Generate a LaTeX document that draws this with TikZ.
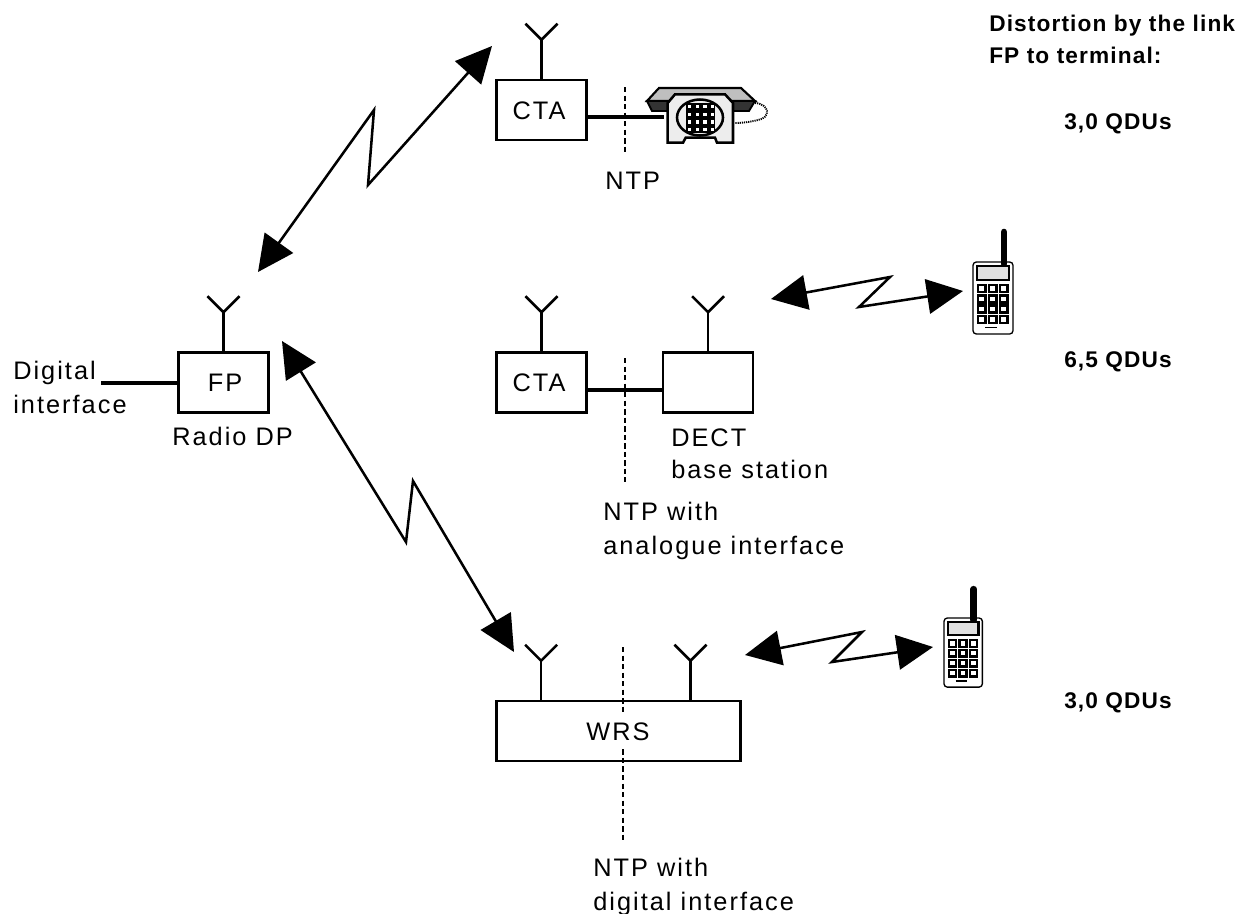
\documentclass[tikz,border=0pt]{standalone}
\usepackage{fontspec}
\setmainfont{Liberation Sans}
\newfontfamily\lblfont[LetterSpace=8]{Liberation Sans}
\newfontfamily\qdufont[LetterSpace=5]{Liberation Sans}
\usetikzlibrary{arrows.meta,positioning}

\begin{document}
\begin{tikzpicture}[
  x=0.75pt, y=-0.75pt,
  box/.style={draw, line width=1.9pt, minimum width=67.5pt, minimum height=45pt, inner sep=0pt},
  wbox/.style={box, minimum width=183pt},
  lbl/.style={anchor=base west, inner sep=0pt, align=left, font=\lblfont\fontsize{19}{25}\selectfont},
  inbox/.style={inner sep=0pt, font=\lblfont\fontsize{19}{25}\selectfont},
  qdu/.style={anchor=base west, inner sep=0pt, align=left, font=\qdufont\bfseries\fontsize{17}{24}\selectfont},
  arr/.style={{Triangle[length=27pt,width=26pt]}-{Triangle[length=27pt,width=26pt]}, line width=1.9pt},
  wire/.style={line width=3pt},
  ntp/.style={line width=1.9pt, dash pattern=on 4pt off 2.4pt},
  antenna/.pic={
    \draw[line width=1.9pt] (0,0) -- (0,-39);
    \draw[line width=1.9pt] (-16,-55) -- (0,-39) -- (16,-55);
  },
  mobile/.pic={
    \draw[line width=1pt, fill=white, rounded corners=2.5pt] (0,0) rectangle (40,72);
    \draw[line width=5pt, line cap=round] (31,-30) -- (31,2);
    \draw[line width=1.8pt, fill=black!12] (4,4) rectangle (36,18);
    \foreach \col in {0,1,2} \foreach \row in {0,1,2,3}
      \draw[line width=1.8pt, fill=white] (5+\col*11,23+\row*10.3) rectangle (12.5+\col*11,30+\row*10.3);
    \draw[line width=1.3pt] (12,65.5) -- (24,65.5);
  }
]
\useasboundingbox (0,0) rectangle (1247,914);

\node[box] (fp) at (223.5,382.5) {};
\node[inbox] (fptxt) at (225,383) {FP};
\node[box] (ctatop) at (541.5,110) {};
\node[inbox] (ctatoptxt) at (539,111) {CTA};
\node[box] (ctamid) at (541.5,382.5) {};
\node[inbox] (ctamidtxt) at (539,383) {CTA};
\node[box, right=55.5pt of ctamid] (dect) {};
\node[wbox] (wrs) at (618.5,731) {};

\pic at (fp.north) {antenna};
\pic at (ctatop.north) {antenna};
\pic at (ctamid.north) {antenna};
\pic at (dect.north) {antenna};
\pic at ([xshift=-58pt]wrs.north) {antenna};
\pic at ([xshift=54pt]wrs.north) {antenna};

\coordinate (digital) at (101,382.5);
\coordinate (phone) at (664,117);
\draw[wire] (digital) -- (fp.west);
\draw[wire] (ctatop.east |- phone) -- (phone);
\draw[wire] ([yshift=-5.6pt]ctamid.east) -- ([yshift=-5.6pt]dect.west);

\coordinate (ntptop) at (625,87);
\coordinate (ntptopend) at (625,155);
\coordinate (ntpmid) at (625,358);
\coordinate (ntpmidend) at (625,482);
\coordinate (ntplow) at (623,647);
\coordinate (ntplowend) at (623,841);
\draw[ntp] (ntptop) -- (ntptopend);
\draw[ntp] (ntpmid) -- (ntpmidend);
\draw[ntp] (ntplow) -- (ntplowend);
\node[inbox, fill=white, minimum height=26pt, inner xsep=1pt] (wrstxt) at (618,731.5) {WRS};

\coordinate (fpup) at (258,272);
\coordinate (ctaup) at (492,46);
\coordinate (fpdown) at (282,341);
\coordinate (wrsup) at (514,652);
\coordinate (dectout) at (771,299);
\coordinate (mobup) at (963,291);
\coordinate (wrsout) at (745,655);
\coordinate (moblow) at (933,647);
\draw[arr] (fpup) -- (374,110) -- (368,185) -- (ctaup);
\draw[arr] (fpdown) -- (406,542) -- (413,481) -- (wrsup);
\draw[arr] (dectout) -- (890,277) -- (859,307) -- (mobup);
\draw[arr] (wrsout) -- (862,632) -- (832,662) -- (moblow);

\pic at (973,262) {mobile};
\pic[scale=.96] at (944,618) {mobile};

\draw[line width=1.6pt, fill=black!25] (659,88) -- (741,88) -- (755,101) -- (647,101) -- cycle;
\draw[line width=1.4pt, fill=black!80] (647,101) -- (755,101) -- (749,111) -- (652,111) -- cycle;
\draw[line width=1.9pt, fill=black!7] (667.7,103) -- (675,94.3) -- (725,94.3) -- (733,103) -- (733,142.7) -- (717,142.7) -- (715,137.7) -- (685.7,137.7) -- (683,142.7) -- (667.7,142.7) -- cycle;
\draw[line width=1.9pt, fill=black!7] (700,117.5) ellipse (23 and 18);
\fill[black] (686,102.5) rectangle (715,133);
\foreach \col in {0,1,2,3} \foreach \row in {0,1,2,3}
  \fill[white] (688+\col*7.6,105+\row*7.6) rectangle (691.4+\col*7.6,108.4+\row*7.6);
\draw[line width=1.4pt, dash pattern=on .9pt off .7pt] (755,103) .. controls (770,104) and (771,118) .. (758,120) .. controls (750,122) and (742,123) .. (735,123);

\node[lbl] (digitallbl) at (13,413) {Digital\\interface};
\node[lbl] (radiodp) at (172,445) {Radio DP};
\node[lbl] (ntptoplbl) at (605,189) {NTP};
\node[lbl] (dectlbl) at (671,478) {DECT\\[-1.5pt]base station};
\node[lbl] (ntpmidlbl) at (603,554) {NTP with\\analogue interface};
\node[lbl] (ntplowlbl) at (593,910) {NTP with\\digital interface};
\node[qdu] (qduhead) at (989,63) {Distortion by the link\\FP to terminal:};
\node[qdu] (qdutop) at (1064,129) {3,0 QDUs};
\node[qdu] (qdumid) at (1064,367) {6,5 QDUs};
\node[qdu] (qdulow) at (1064,708) {3,0 QDUs};
\end{tikzpicture}
\end{document}
